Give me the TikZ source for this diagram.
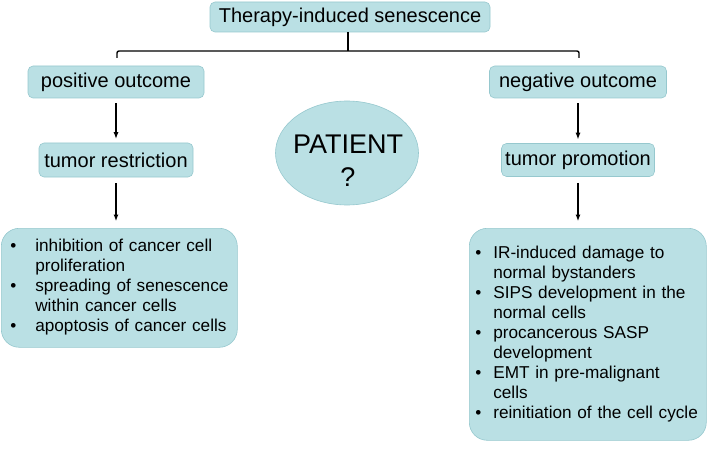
\documentclass[tikz,border=0pt]{standalone}
\usepackage{fontspec}
\setmainfont{Liberation Sans}
\usetikzlibrary{arrows.meta,shapes.geometric}
\definecolor{boxfill}{RGB}{186,224,228}
\definecolor{boxline}{RGB}{150,200,206}
\begin{document}
\begin{tikzpicture}[x=1pt,y=-1pt,
  lab/.style={draw=boxline, fill=boxfill, line width=0.6pt, rounded corners=5pt, inner sep=0pt, font=\fontsize{20}{24}\selectfont},
  listbox/.style={draw=boxline, fill=boxfill, line width=0.6pt, rounded corners=18pt, inner ysep=0pt, align=left, anchor=north west, font=\fontsize{17.2}{20}\selectfont},
  arr/.style={line width=1.5pt, -{Latex[length=7pt,width=5pt]}},
  brk/.style={line width=1.4pt, rounded corners=2pt}]
\useasboundingbox (0,0) rectangle (708,449);

\node[lab, minimum width=280, minimum height=30] (top) at (350,17) {Therapy-induced senescence};
\node[lab, minimum width=176, minimum height=32] (pos) at (116,82) {positive outcome};
\node[lab, minimum width=154, minimum height=34] (res) at (116,160) {tumor restriction};
\node[lab, minimum width=177, minimum height=32] (neg) at (578,82) {negative outcome};
\node[lab, minimum width=153, minimum height=33] (pro) at (578,160) {tumor promotion};

\node[ellipse, draw=boxline, fill=boxfill, line width=0.6pt, minimum width=143, minimum height=104, inner sep=0pt] (pat) at (347,153) {};
\node[align=center, inner sep=0pt, font=\fontsize{27}{33}\selectfont] (pattxt) at (348,161) {PATIENT\\?};

\node[listbox, text width=218, inner xsep=9, minimum height=119] (lb) at (1,228) {\begin{tabular}{@{}l@{\hspace{19pt}}l@{}}
\textbullet & inhibition of cancer cell\\
 & proliferation\\
\textbullet & spreading of senescence\\
 & within cancer cells\\
\textbullet & apoptosis of cancer cells
\end{tabular}};

\node[listbox, text width=225, inner xsep=6, minimum height=212] (rb) at (469,228) {\begin{tabular}{@{}l@{\hspace{12pt}}l@{}}
\textbullet & IR-induced damage to\\
 & normal bystanders\\
\textbullet & SIPS development in the\\
 & normal cells\\
\textbullet & procancerous SASP\\
 & development\\
\textbullet & EMT in pre-malignant\\
 & cells\\
\textbullet & reinitiation of the cell cycle
\end{tabular}};

\coordinate (j) at (348,51);
\coordinate (pl) at (117,58);
\coordinate (pr) at (579,58);
\draw[brk] (top.south -| j) -- (j);
\draw[brk] (pl) -- (pl |- j) -- (pr |- j) -- (pr);

\draw[arr, shorten <=5pt, shorten >=3.5pt] (pos) -- (res);
\draw[arr, shorten <=6pt, shorten >=6.5pt] (res.south) -- (res.south |- lb.north);
\draw[arr, shorten <=5pt, shorten >=3.5pt] (neg) -- (pro);
\draw[arr, shorten <=6pt, shorten >=6.5pt] (pro.south) -- (pro.south |- rb.north);
\end{tikzpicture}
\end{document}
